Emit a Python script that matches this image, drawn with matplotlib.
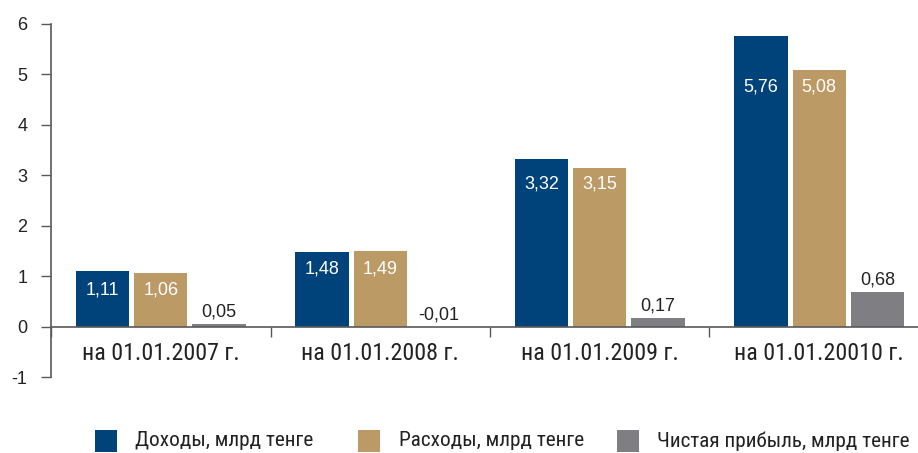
import matplotlib
matplotlib.use("Agg")
import matplotlib.pyplot as plt
from matplotlib.patches import Rectangle
from matplotlib.ticker import FixedLocator
from matplotlib import font_manager
import numpy as np

categories = ["на 01.01.2007 г.", "на 01.01.2008 г.", "на 01.01.2009 г.", "на 01.01.20010 г."]
income = [1.11, 1.48, 3.32, 5.76]
expenses = [1.06, 1.49, 3.15, 5.08]
profit = [0.05, -0.01, 0.17, 0.68]
series_names = ["Доходы, млрд тенге", "Расходы, млрд тенге", "Чистая прибыль, млрд тенге"]
colors = ["#00427A", "#BC9A66", "#7F7F83"]

plt.rcParams["axes.unicode_minus"] = False

available = {f.name for f in font_manager.fontManager.ttflist}
narrow_name = "Liberation Sans"
for cand in ["Liberation Sans Narrow", "Roboto Condensed", "Open Sans Condensed"]:
    if cand in available:
        narrow_name = cand
        break
narrow = [narrow_name, "DejaVu Sans"]
normal = ["Liberation Sans", "DejaVu Sans"]

W, H = 918, 453
fig = plt.figure(figsize=(W / 100, H / 100), dpi=100)
renderer = fig.canvas.get_renderer()


def fit_size(text, family, target_px, base=20.0):
    t = fig.text(0, 0, text, fontsize=base, family=family)
    wpx = t.get_window_extent(renderer).width
    t.remove()
    return base * target_px / wpx


xlab_size = fit_size(categories[0], narrow, 158)
leg_size = fit_size(series_names[2], narrow, 253)

left, right = 51, 929
top, bottom = 24, 377
ax = fig.add_axes([left / W, 1 - bottom / H, (right - left) / W, (bottom - top) / H])

for s in ["top", "right"]:
    ax.spines[s].set_visible(False)
ax.spines["bottom"].set_position(("data", 0))
ax.spines["bottom"].set_color("#595959")
ax.spines["left"].set_color("#595959")
ax.spines["left"].set_linewidth(1.2)
ax.spines["bottom"].set_linewidth(1.2)

x = np.arange(len(categories))
w = 0.243
off = 0.265
ax.bar(x - off, income, w, color=colors[0])
ax.bar(x, expenses, w, color=colors[1])
ax.bar(x + off, profit, w, color=colors[2])

fmt = lambda v: f"{v:.2f}".replace(".", ",")
for i in range(len(categories)):
    ylab = min(income[i], expenses[i])
    ax.annotate(fmt(income[i]), (x[i] - off, ylab), xytext=(0, -12), textcoords="offset points",
                ha="center", va="center", color="white", fontsize=13, family=normal)
    ax.annotate(fmt(expenses[i]), (x[i], ylab), xytext=(0, -12), textcoords="offset points",
                ha="center", va="center", color="white", fontsize=13, family=normal)
    ax.annotate(fmt(profit[i]), (x[i] + off, max(profit[i], 0)), xytext=(0, 8.5), textcoords="offset points",
                ha="center", va="center", color="#222222", fontsize=13, family=normal)

ax.set_xlim(-0.5, 3.5)
ax.set_ylim(-1, 6)
ax.set_yticks(range(-1, 7))
ax.tick_params(axis="y", labelsize=13, length=7, width=1, color="#595959", labelcolor="#222222", pad=10)

ax.set_xticks(x)
ax.xaxis.set_minor_locator(FixedLocator([-0.5, 0.5, 1.5, 2.5]))
ax.tick_params(axis="x", which="major", length=0, pad=11, labelsize=xlab_size, labelcolor="#222222")
ax.tick_params(axis="x", which="minor", length=7, width=1, color="#595959")
ax.set_xticklabels(categories)
for t in ax.get_xticklabels():
    t.set_fontfamily(narrow)
for t in ax.get_yticklabels():
    t.set_fontfamily(normal)

# legend (manual placement)
sq_x = [95, 358, 617]
tx_x = [135, 399, 657]
ly = 441
for c, name, sx, tx in zip(colors, series_names, sq_x, tx_x):
    fig.patches.append(Rectangle((sx / W, 1 - (ly + 11) / H), 22 / W, 22 / H, transform=fig.transFigure,
                                 facecolor=c, edgecolor="none"))
    fig.text(tx / W, 1 - ly / H, name, ha="left", va="center", fontsize=leg_size,
             family=narrow, color="#222222")

fig.savefig("out.png", dpi=100)
